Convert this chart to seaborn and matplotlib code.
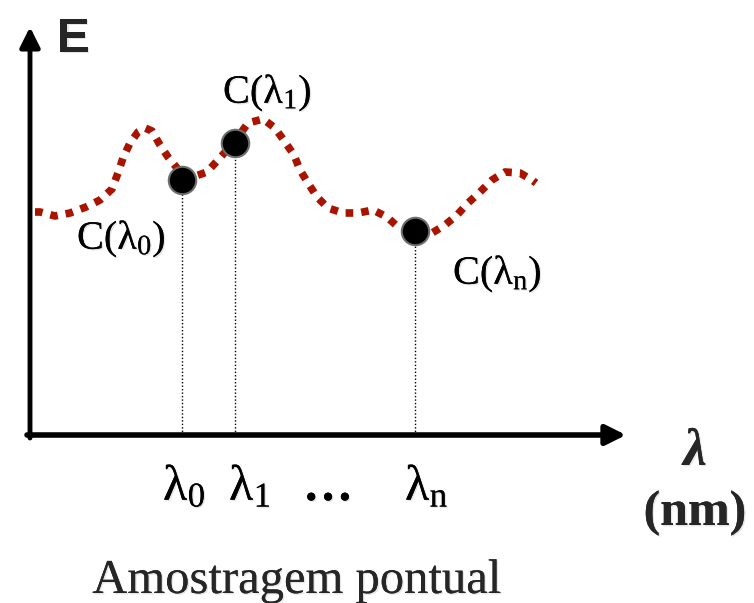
import matplotlib
matplotlib.use("Agg")
import matplotlib.pyplot as plt
import matplotlib.patheffects as pe
import seaborn as sns

# spectral curve (arbitrary units, origin at the axes corner)
curve_x = [5, 10, 25, 40, 56, 70, 82, 88, 93, 100, 108, 115, 122, 130, 138, 147, 154,
           160, 177, 188, 205, 218, 233, 245, 255, 264, 270, 278, 287, 298, 313, 328,
           343, 357, 368, 383, 402, 415, 427, 438, 450, 462, 475, 490, 502, 506]
curve_e = [223, 223, 219, 222, 228, 235, 246, 262, 277, 292, 303, 307, 304, 290, 278, 267, 257,
           257, 263, 275, 294, 312, 316, 307, 293, 280, 265, 252, 238, 227, 222, 222,
           225, 218, 208, 203, 202, 210, 220, 232, 243, 255, 263, 262, 255, 252]

# sampled points
sample_x = [152, 205, 385]
sample_e = [255, 292, 204]
sample_labels = [r"$\mathrm{C(\lambda_0)}$", r"$\mathrm{C(\lambda_1)}$", r"$\mathrm{C(\lambda_n)}$"]
sample_label_pos = [(47, 186), (193, 332), (423, 151)]

tick_labels = [r"$\mathrm{\lambda_0}$", r"$\mathrm{\lambda_1}$", "…", r"$\mathrm{\lambda_n}$"]
tick_label_x = [133, 199, 273, 375]

sns.set_theme(style="white")
plt.rcParams["font.family"] = ["Liberation Serif", "DejaVu Serif"]
plt.rcParams["mathtext.fontset"] = "custom"
plt.rcParams["mathtext.rm"] = "Liberation Serif"
plt.rcParams["mathtext.it"] = "Liberation Serif:italic"
plt.rcParams["mathtext.bf"] = "Liberation Serif:bold"

fig = plt.figure(figsize=(7.54, 6.03), dpi=100)
ax = fig.add_axes([0, 0, 1, 1])
ax.set_xlim(-30, 724)
ax.set_ylim(-168, 435)
ax.axis("off")

shadow = [pe.withSimplePatchShadow(offset=(1, -1), shadow_rgbFace="#aaaaaa", alpha=0.3), pe.Normal()]

# axes with arrows
ax.annotate("", xy=(0, 408), xytext=(0, -3),
            arrowprops=dict(arrowstyle="-|>", color="black", lw=3.5, mutation_scale=30,
                            shrinkA=0, shrinkB=0))
ax.annotate("", xy=(596, 0), xytext=(-3, 0),
            arrowprops=dict(arrowstyle="-|>", color="black", lw=4, mutation_scale=30,
                            shrinkA=0, shrinkB=0))

# drop lines
ax.vlines(sample_x, 0, sample_e, colors="black", linestyles=(0, (1, 1.5)), linewidth=1.0, zorder=2)

# dotted curve
sns.lineplot(x=curve_x, y=curve_e, sort=False, ax=ax, color="#a81400", linewidth=5.5,
             linestyle=(0, (1, 1.05)), dash_capstyle="butt", zorder=3)

# sample points
sns.scatterplot(x=sample_x, y=sample_e, ax=ax, s=390, color="black", edgecolor="#6e6e6e",
                linewidth=1.5, zorder=4)

for lab, (lx, ly) in zip(sample_labels, sample_label_pos):
    ax.text(lx, ly, lab, fontsize=29, ha="left", va="baseline", color="black", path_effects=shadow)

for lab, lx in zip(tick_labels, tick_label_x):
    ax.text(lx, -65, lab, fontsize=36, ha="left", va="baseline",
            fontweight="bold" if lab == "…" else "normal",
            color="black", path_effects=shadow)

ax.text(27, 383, "E", fontsize=35, fontweight="bold", family="Liberation Sans",
        ha="left", va="baseline", path_effects=shadow)
ax.text(665, -30, "λ", fontsize=38, fontweight="bold", fontstyle="italic",
        ha="center", va="baseline", path_effects=shadow)
ax.text(665, -90, "(nm)", fontsize=36, fontweight="bold", ha="center", va="baseline",
        path_effects=shadow)
ax.text(267, -158, "Amostragem pontual", fontsize=35, ha="center", va="baseline",
        path_effects=shadow)

plt.savefig("out.png", dpi=100)
